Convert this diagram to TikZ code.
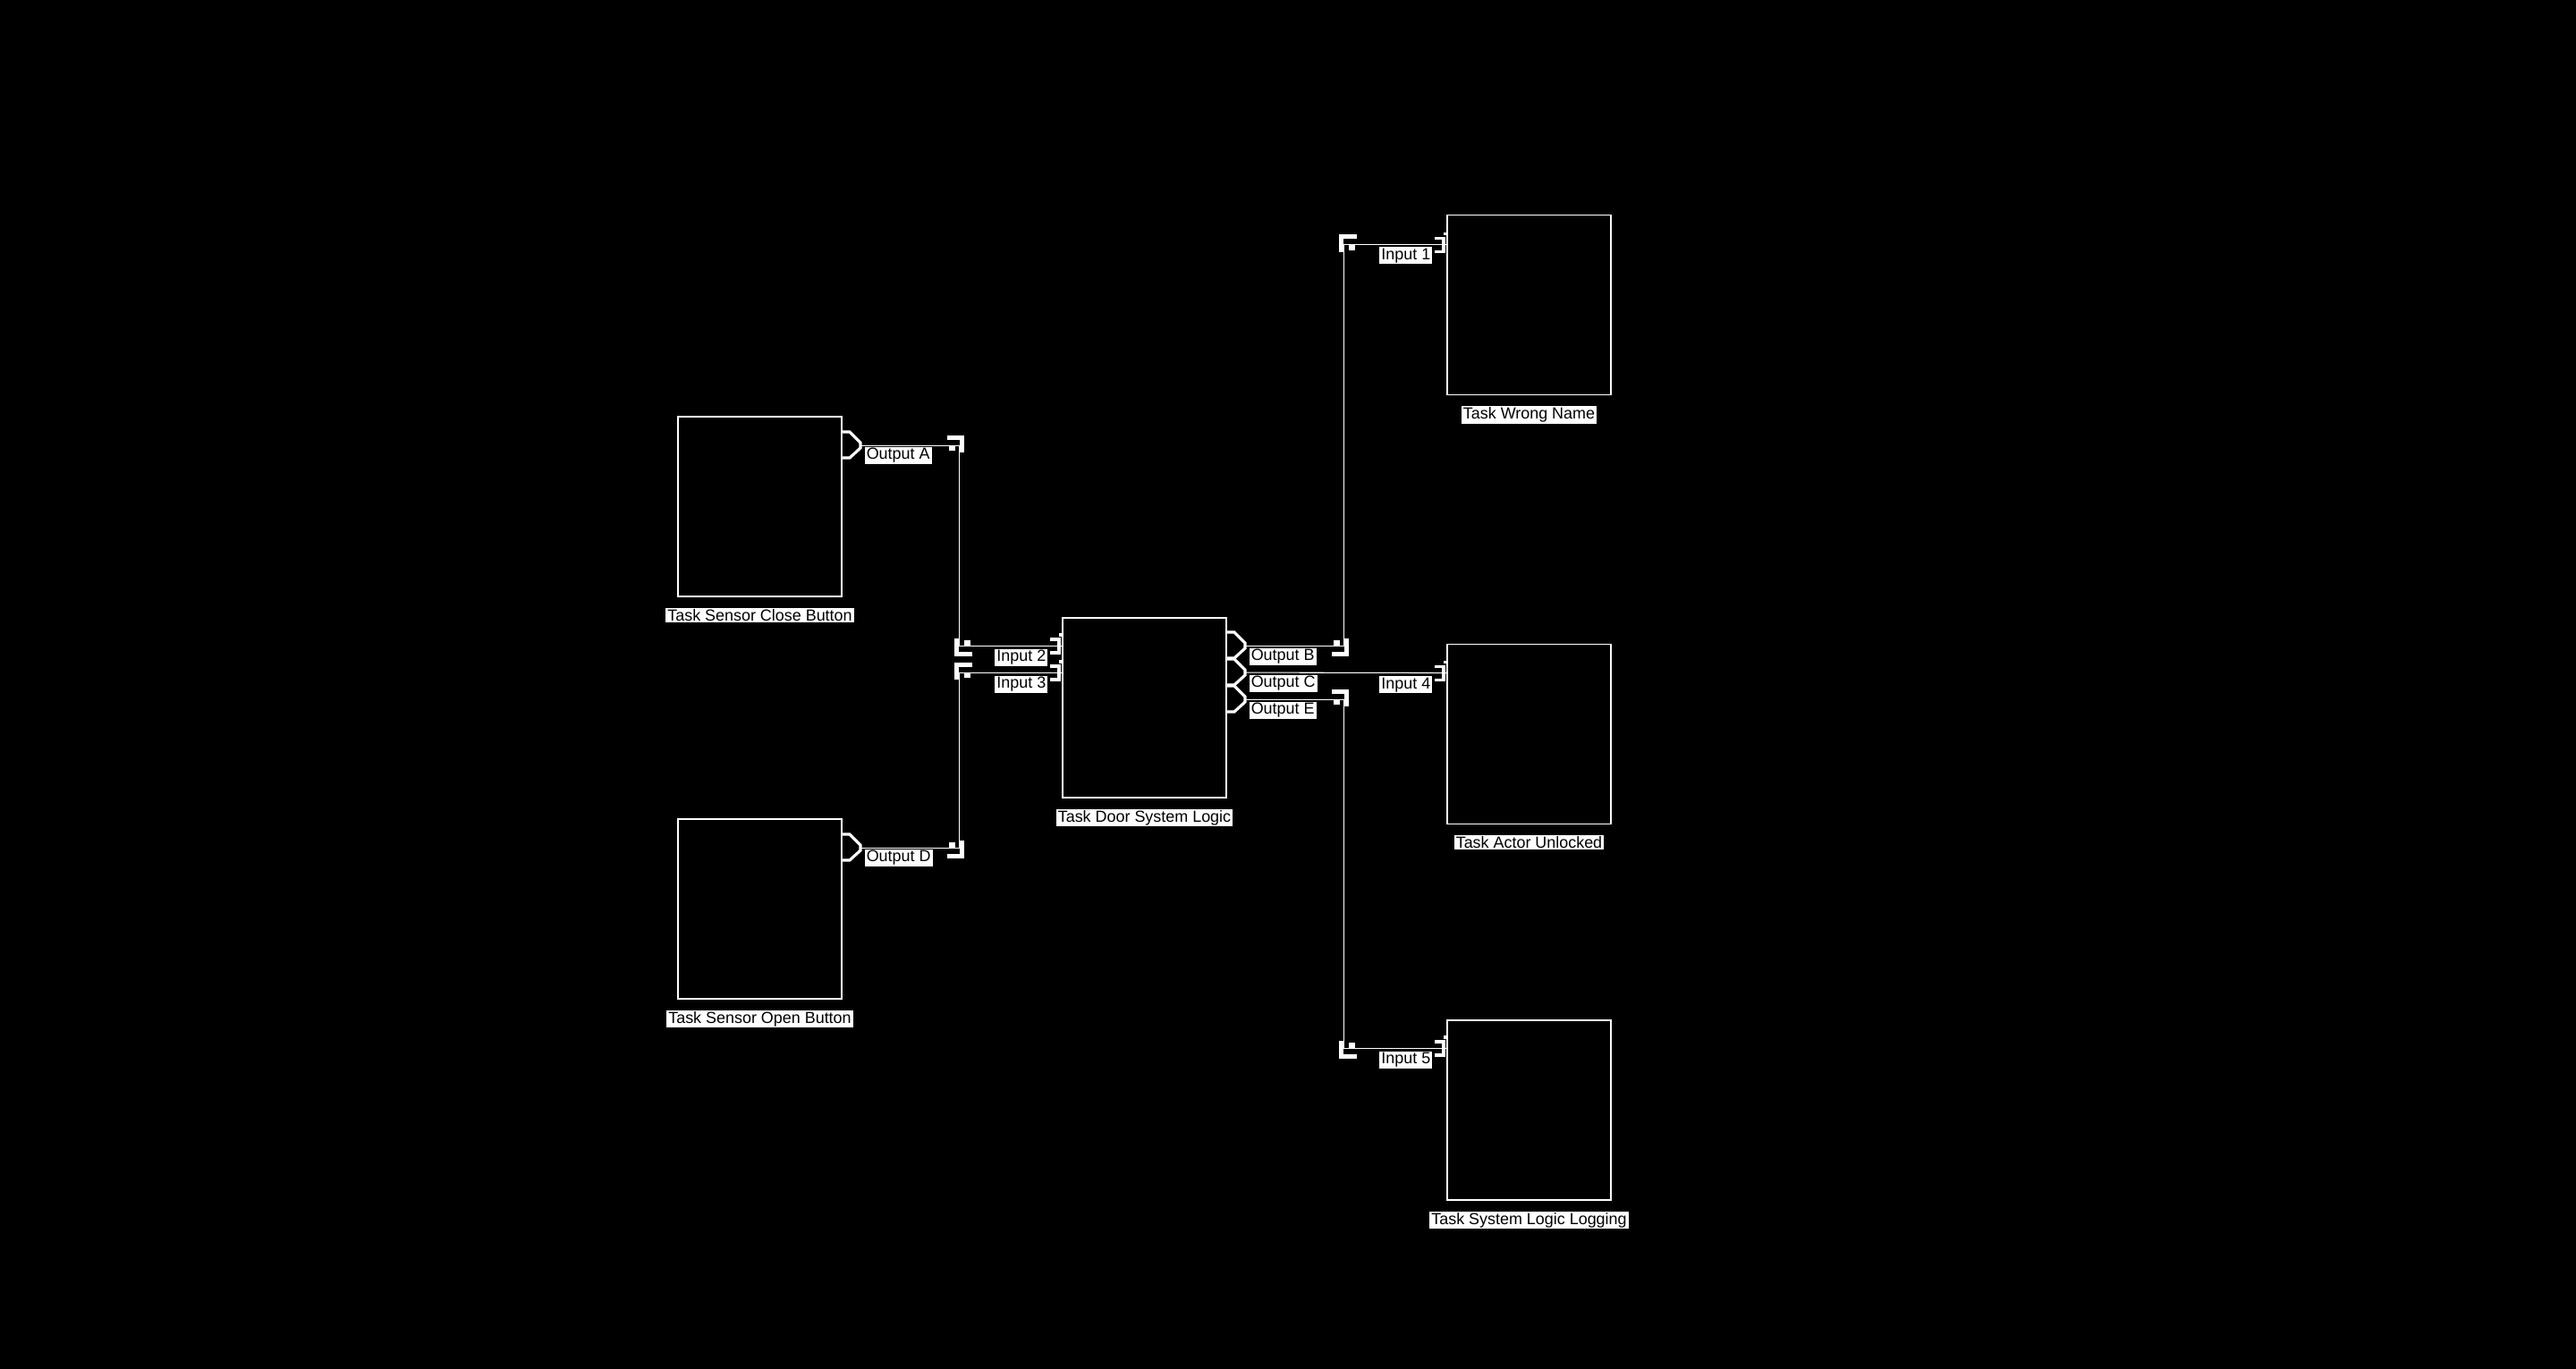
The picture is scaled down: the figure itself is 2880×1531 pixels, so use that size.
\documentclass[tikz,border=0pt]{standalone}
\usepackage{fontspec}
\setmainfont{Liberation Sans}
\usetikzlibrary{positioning,calc}
\begin{document}
\begin{tikzpicture}[x=0.01cm,y=-0.01cm]
	\tikzstyle{task} = [rectangle, draw=white, line width=0.5pt, fill=black, minimum width=1.83cm, minimum height=2.01cm, inner sep=0pt]
	\tikzstyle{tag} = [rectangle, fill=white, text=black, inner xsep=0.6pt, inner ysep=0.4pt, font=\fontsize{5.1}{6}\selectfont]
\tikzstyle{wire} = [draw=white, line width=0.3pt]
\tikzset{
  elbow/.pic={\draw[white, line width=1.4pt] (-14,-9) -- (3,-9) -- (3,8); \fill[white] (-12,0) rectangle (-5,6);},
  outmark/.pic={\draw[white, fill=black, line width=0.9pt] (0,-15) -- (8,-15) -- (20,-3) -- (20,3) -- (8,14) -- (0,14);},
  inmark/.pic={\draw[white, line width=0.9pt] (-13,-7) -- (-3,-7) -- (-3,8) -- (-13,8); \draw[white, line width=0.9pt] (-3,-12) -- (0,-12);}
}
  \useasboundingbox (0,0) rectangle (2880,1531);
  \fill[black] (0,0) rectangle (2880,1531);

  \node(close)[task] at (849.5,566.5) {};
  \node(open)[task] at (849.5,1016.5) {};
  \node(door)[task] at (1279.5,791.5) {};
  \node(wrong)[task] at (1709.5,341) {};
  \node(actor)[task] at (1709.5,821) {};
  \node(logging)[task] at (1709.5,1241.5) {};

  \node[tag, below=0.11cm of close] {Task Sensor Close Button};
  \node[tag, below=0.11cm of open] {Task Sensor Open Button};
  \node[tag, below=0.11cm of door] {Task Door System Logic};
  \node[tag, below=0.11cm of wrong] {Task Wrong Name};
  \node[tag, below=0.11cm of actor] {Task Actor Unlocked};
  \node[tag, below=0.11cm of logging] {Task System Logic Logging};

  \coordinate (outA) at ($(close.north east)+(0,33)$);
  \coordinate (outD) at ($(open.north east)+(0,33)$);
  \coordinate (in2) at ($(door.north west)+(0,32)$);
  \coordinate (in3) at ($(door.north west)+(0,62)$);
  \coordinate (outB) at ($(door.north east)+(0,32)$);
  \coordinate (outC) at ($(door.north east)+(0,62)$);
  \coordinate (outE) at ($(door.north east)+(0,92)$);
  \coordinate (in1) at ($(wrong.north west)+(0,34)$);
  \coordinate (in4) at ($(actor.north west)+(0,33)$);
  \coordinate (in5) at ($(logging.north west)+(0,32)$);
  \coordinate (lbus) at ($(close.east)+(131,0)$);
  \coordinate (rbus) at ($(door.east)+(131,0)$);

  \draw [wire] (outA) -| (lbus |- in2) -- (in2);
  \draw [wire] (outD) -| (lbus |- in3) -- (in3);
  \draw [wire] (outB) -| (rbus |- in1) -- (in1);
  \draw [wire] (outC) -- (in4);
  \draw [wire] (outE) -| (rbus |- in5) -- (in5);

  \pic at (outA) {outmark};
  \pic at (outD) {outmark};
  \pic at (outB) {outmark};
  \pic at (outC) {outmark};
  \pic at (outE) {outmark};
  \pic at (in1) {inmark};
  \pic at (in2) {inmark};
  \pic at (in3) {inmark};
  \pic at (in4) {inmark};
  \pic at (in5) {inmark};

  \pic at (outA -| lbus) {elbow};
  \pic[xscale=-1,yscale=-1] at (in2 -| lbus) {elbow};
  \pic[xscale=-1] at (in3 -| lbus) {elbow};
  \pic[yscale=-1] at (outD -| lbus) {elbow};
  \pic[yscale=-1] at (outB -| rbus) {elbow};
  \pic[xscale=-1] at (in1 -| rbus) {elbow};
  \pic at (outE -| rbus) {elbow};
  \pic[xscale=-1,yscale=-1] at (in5 -| rbus) {elbow};

  \node[tag, anchor=north west] at ($(outA)+(24,1)$) {Output A};
  \node[tag, anchor=north west] at ($(outD)+(24,1)$) {Output D};
  \node[tag, anchor=north west] at ($(outB)+(24,2)$) {Output B};
  \node[tag, anchor=north west] at ($(outC)+(24,2)$) {Output C};
  \node[tag, anchor=north west] at ($(outE)+(24,2)$) {Output E};
  \node[tag, anchor=north east] at ($(in1)+(-15,2)$) {Input 1};
  \node[tag, anchor=north east] at ($(in2)+(-15,3)$) {Input 2};
  \node[tag, anchor=north east] at ($(in3)+(-15,3)$) {Input 3};
  \node[tag, anchor=north east] at ($(in4)+(-15,3)$) {Input 4};
  \node[tag, anchor=north east] at ($(in5)+(-15,3)$) {Input 5};
\end{tikzpicture}
\end{document}
